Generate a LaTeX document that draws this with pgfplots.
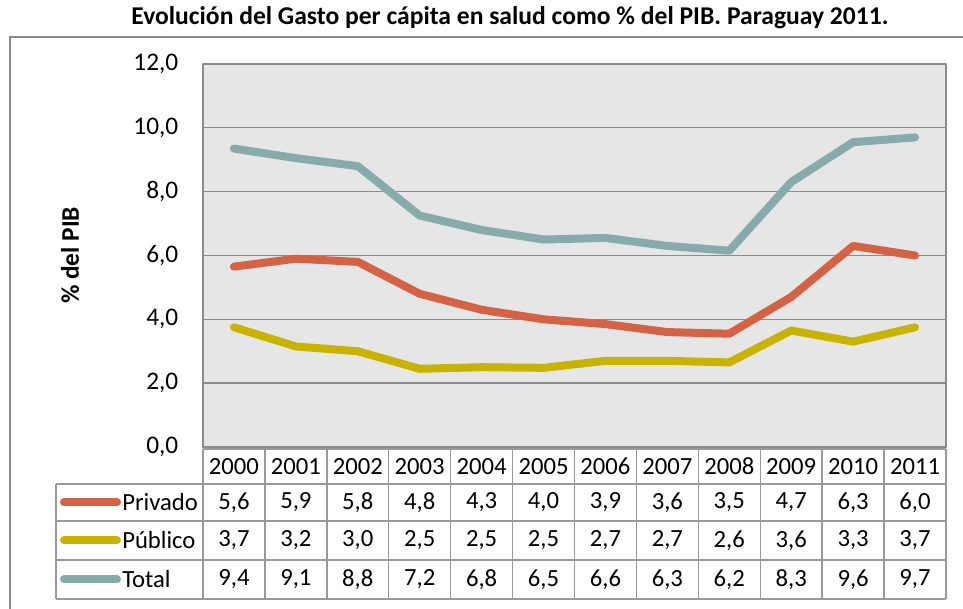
\documentclass[border=0pt]{standalone}
\usepackage{pgfplots}
\pgfplotsset{compat=1.18}
\usepackage{fontspec}
\setmainfont{Carlito}
\definecolor{priv}{HTML}{D46245}
\definecolor{publ}{HTML}{C8B400}
\definecolor{tot}{HTML}{87AAAA}
\definecolor{bg}{HTML}{E6E6E6}
\definecolor{gridc}{HTML}{8C8C8C}
\definecolor{tabc}{HTML}{999999}
\newcommand\tf{\fontsize{18.5}{21}\selectfont}
\begin{document}
\begin{tikzpicture}[x=0.75pt,y=0.75pt]
\path[use as bounding box] (0,0) rectangle (963,609);
% outer chart border
\draw[gridc,line width=1.2pt] (10,0) -- (10,572) -- (963,572);
\node[font=\bfseries\fontsize{19.2}{22}\selectfont] at (510,591) {Evolución del Gasto per cápita en salud como \% del PIB. Paraguay 2011.};
\begin{axis}[
  at={(152.25pt,121.5pt)}, anchor=south west,
  width=557.25pt, height=287.25pt, scale only axis,
  xmin=-0.5, xmax=11.5, ymin=0, ymax=12,
  xtick=\empty,
  ytick={0,2,...,12},
  ymajorgrids,
  grid style={gridc, line width=1pt},
  axis line style={gridc, line width=1pt},
  axis background/.style={fill=bg},
  major tick length=0pt,
  yticklabel style={font=\fontsize{19}{21}\selectfont, xshift=-15pt, /pgf/number format/.cd, fixed, fixed zerofill, precision=1, use comma, assume math mode=true},
  ylabel={\textbf{\% del PIB}},
  ylabel style={font=\fontsize{19}{21}\selectfont, at={(-0.179,0.5)}, anchor=center},
  clip=false,
  line cap=round, line join=round,
]
\addplot[priv, line width=6pt] coordinates {(0,5.65) (1,5.9) (2,5.8) (3,4.8) (4,4.3) (5,4.0) (6,3.85) (7,3.6) (8,3.55) (9,4.7) (10,6.3) (11,6.0)};
\addplot[publ, line width=6pt] coordinates {(0,3.75) (1,3.15) (2,3.0) (3,2.45) (4,2.5) (5,2.48) (6,2.7) (7,2.7) (8,2.65) (9,3.65) (10,3.3) (11,3.75)};
\addplot[tot, line width=6pt] coordinates {(0,9.35) (1,9.05) (2,8.8) (3,7.25) (4,6.8) (5,6.5) (6,6.55) (7,6.3) (8,6.15) (9,8.3) (10,9.55) (11,9.7)};
\end{axis}
% data table
\def\cw{61.917}
\draw[tabc,line width=1.1pt] (203,160) -- (946,160);
\foreach \yy in {125,88,49,10} \draw[tabc,line width=1.1pt] (56,\yy) -- (946,\yy);
\draw[tabc,line width=1.1pt] (56,125) -- (56,10);
\foreach \k in {0,...,12} \draw[tabc,line width=1.1pt] ({203+\cw*\k},160) -- ({203+\cw*\k},10);
\foreach \lab [count=\i from 0] in {2000,2001,2002,2003,2004,2005,2006,2007,2008,2009,2010,2011}
  \node[font=\tf] at ({203+\cw*(\i+0.5)},142.5) {\lab};
\foreach \lab [count=\i from 0] in {{5,6},{5,9},{5,8},{4,8},{4,3},{4,0},{3,9},{3,6},{3,5},{4,7},{6,3},{6,0}}
  \node[font=\tf] at ({203+\cw*(\i+0.5)},106.5) {\lab};
\foreach \lab [count=\i from 0] in {{3,7},{3,2},{3,0},{2,5},{2,5},{2,5},{2,7},{2,7},{2,6},{3,6},{3,3},{3,7}}
  \node[font=\tf] at ({203+\cw*(\i+0.5)},68.5) {\lab};
\foreach \lab [count=\i from 0] in {{9,4},{9,1},{8,8},{7,2},{6,8},{6,5},{6,6},{6,3},{6,2},{8,3},{9,6},{9,7}}
  \node[font=\tf] at ({203+\cw*(\i+0.5)},29.5) {\lab};
% legend keys
\draw[priv,line width=6pt,line cap=round] (64,106.5) -- (117,106.5);
\draw[publ,line width=6pt,line cap=round] (64,68.5) -- (117,68.5);
\draw[tot,line width=6pt,line cap=round] (64,29.5) -- (117,29.5);
\node[font=\tf, anchor=west, inner sep=0pt] at (122,106.5) {Privado};
\node[font=\tf, anchor=west, inner sep=0pt] at (122,68.5) {Público};
\node[font=\tf, anchor=west, inner sep=0pt] at (122,29.5) {Total};
\end{tikzpicture}
\end{document}
